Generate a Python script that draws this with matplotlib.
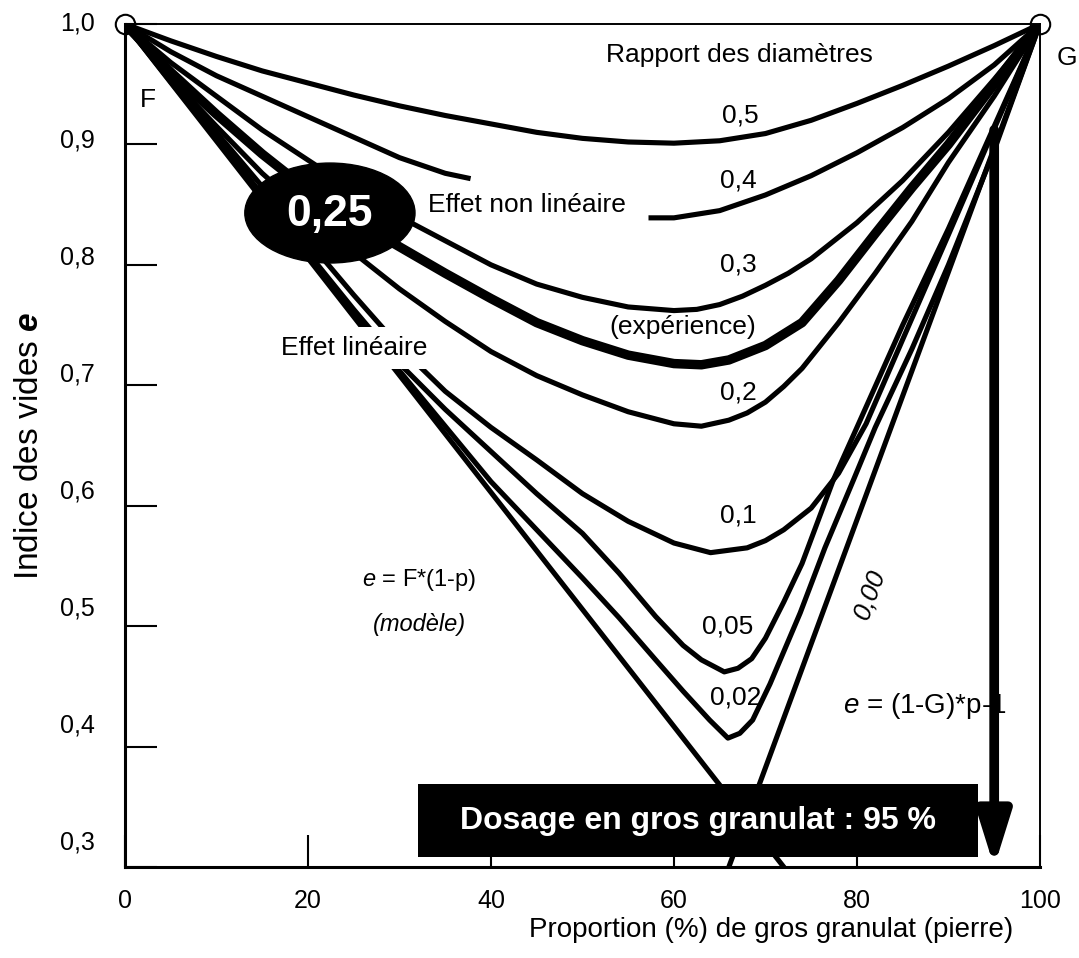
import numpy as np
import matplotlib
matplotlib.use("Agg")
import matplotlib.pyplot as plt
from matplotlib.patches import Ellipse, Rectangle
from matplotlib.transforms import blended_transform_factory

plt.rcParams["font.family"] = ["Liberation Sans", "DejaVu Sans"]
plt.rcParams["mathtext.fontset"] = "custom"
plt.rcParams["mathtext.it"] = "Liberation Sans:italic"
plt.rcParams["mathtext.bf"] = "Liberation Sans:bold"
plt.rcParams["mathtext.bfit"] = "Liberation Sans:italic:bold"

# void index e vs. coarse fraction p (%), one curve per diameter ratio
P_05 = [0, 5, 10, 15, 20, 25, 30, 35, 40, 45, 50, 55, 60, 65, 70, 75, 80, 85, 90, 95, 100]
E_05 = [1.0, 0.986, 0.973, 0.961, 0.951, 0.941, 0.932, 0.924, 0.917, 0.910, 0.905,
        0.902, 0.901, 0.903, 0.909, 0.920, 0.934, 0.949, 0.965, 0.982, 1.0]

# the 0,4 curve is interrupted under "Effet non linéaire"
P_04 = [0, 5, 10, 15, 20, 25, 30, 35, 37.5, np.nan, 57.5, 60, 65, 70, 75, 80, 85, 90, 95, 100]
E_04 = [1.0, 0.977, 0.957, 0.940, 0.923, 0.906, 0.889, 0.876, 0.872, np.nan,
        0.839, 0.839, 0.845, 0.858, 0.874, 0.893, 0.914, 0.938, 0.966, 1.0]

P_03 = [0, 5, 10, 15, 20, 25, 30, 35, 40, 45, 50, 55, 60, 62.5, 65, 67.5, 70, 72.5,
        75, 80, 85, 90, 95, 100]
E_03 = [1.0, 0.968, 0.94, 0.912, 0.887, 0.862, 0.84, 0.82, 0.80, 0.784, 0.773,
        0.765, 0.762, 0.763, 0.767, 0.774, 0.783, 0.793, 0.805, 0.835, 0.87, 0.91,
        0.954, 1.0]

P_EXP = [0, 5, 10, 15, 20, 25, 30, 35, 40, 45, 50, 55, 60, 63, 66, 70, 74, 78, 82, 86, 90, 95, 100]
E_EXP = [1.0, 0.96, 0.925, 0.892, 0.862, 0.837, 0.815, 0.793, 0.772, 0.752, 0.737,
         0.725, 0.718, 0.717, 0.721, 0.733, 0.752, 0.787, 0.826, 0.864, 0.90, 0.95, 1.0]

P_02 = [0, 5, 10, 15, 20, 25, 30, 35, 40, 45, 50, 55, 60, 63, 66, 68, 70, 72, 74,
        78, 82, 86, 90, 95, 100]
E_02 = [1.0, 0.955, 0.915, 0.876, 0.842, 0.81, 0.78, 0.753, 0.728, 0.708, 0.692,
        0.678, 0.668, 0.666, 0.671, 0.677, 0.686, 0.699, 0.714, 0.752, 0.793, 0.836,
        0.885, 0.94, 1.0]

P_01 = [0, 5, 10, 15, 20, 25, 30, 35, 40, 45, 50, 55, 60, 64, 68, 70, 72, 75, 78,
        81, 85, 90, 95, 100]
E_01 = [1.0, 0.955, 0.91, 0.865, 0.82, 0.775, 0.732, 0.695, 0.665, 0.638, 0.61,
        0.587, 0.569, 0.561, 0.565, 0.571, 0.58, 0.598, 0.627, 0.668, 0.738, 0.825,
        0.913, 1.0]

P_005 = [0, 5, 10, 15, 20, 25, 30, 35, 40, 45, 50, 54, 58, 61, 63, 65.5, 67, 68.5,
         70, 72, 74, 77.4, 80, 85, 90, 95, 100]
E_005 = [1.0, 0.953, 0.907, 0.858, 0.81, 0.763, 0.718, 0.68, 0.645, 0.61, 0.577,
         0.544, 0.508, 0.484, 0.472, 0.462, 0.465, 0.473, 0.49, 0.52, 0.552, 0.621,
         0.665, 0.75, 0.83, 0.915, 1.0]

P_002 = [0, 5, 10, 15, 20, 25, 30, 35, 40, 45, 50, 54, 58, 61, 63.9, 65.9, 67.2,
         68.6, 70.5, 73.8, 76.5, 79.6, 82, 86, 90, 95, 100]
E_002 = [1.0, 0.952, 0.905, 0.857, 0.808, 0.76, 0.712, 0.666, 0.62, 0.58, 0.54,
         0.507, 0.472, 0.446, 0.422, 0.407, 0.411, 0.422, 0.452, 0.511, 0.565, 0.621,
         0.665, 0.73, 0.80, 0.895, 1.0]

# linear model branches (ratio 0,00)
P_LIN_F = [0, 72]
E_LIN_F = [1.0, 0.30]
P_LIN_G = [100, 66]
E_LIN_G = [1.0, 0.30]

CURVES = [
    (P_05, E_05), (P_04, E_04), (P_03, E_03), (P_02, E_02), (P_01, E_01),
    (P_005, E_005), (P_002, E_002), (P_LIN_F, E_LIN_F), (P_LIN_G, E_LIN_G),
]

X_TICKS = [0, 20, 40, 60, 80, 100]
Y_TICKS = [0.3, 0.4, 0.5, 0.6, 0.7, 0.8, 0.9, 1.0]
Y_LABELS = ["0,3", "0,4", "0,5", "0,6", "0,7", "0,8", "0,9", "1,0"]

DOSAGE = 95
ARROW_TOP = 0.912

fig = plt.figure(figsize=(10.79, 9.58), dpi=100)
ax = fig.add_axes([0.1158, 0.095, 0.848, 0.88])
ax.set_xlim(0, 100)
ax.set_ylim(0.3, 1.0)

ax.plot([0, 100], [1.0, 1.0], "o", ms=14, mfc="white", mec="black", mew=1.5,
        clip_on=False, zorder=1)
for p, e in CURVES:
    ax.plot(p, e, color="black", lw=3.7, solid_joinstyle="round", zorder=2)
ax.plot(P_EXP, E_EXP, color="black", lw=6.8, solid_joinstyle="round", zorder=2)

# dosage arrow
ax.annotate("", xy=(DOSAGE, 0.3), xytext=(DOSAGE, ARROW_TOP),
            arrowprops=dict(arrowstyle="-|>,head_length=3.2,head_width=1.0",
                            color="black", lw=7, shrinkA=0, shrinkB=0),
            zorder=3)

ax.add_patch(Rectangle((32.0, 0.308), 61.2, 0.061, fc="black", ec="none", zorder=5))
ax.text(62.6, 0.3385, "Dosage en gros granulat : 95 %", color="white",
        fontsize=23, fontweight="bold", ha="center", va="center", zorder=6)

ax.add_patch(Ellipse((22.4, 0.843), 18.6, 0.083, fc="black", ec="black", zorder=5))
ax.text(22.4, 0.842, "0,25", color="white", fontsize=32, fontweight="bold",
        ha="center", va="center", zorder=6)

fs = 19
ax.text(67.2, 0.974, "Rapport des diamètres", fontsize=fs, ha="center", va="center")
ax.text(67.2, 0.924, "0,5", fontsize=fs, ha="center", va="center")
ax.text(67.0, 0.870, "0,4", fontsize=fs, ha="center", va="center")
ax.text(67.0, 0.800, "0,3", fontsize=fs, ha="center", va="center")
ax.text(61.0, 0.748, "(expérience)", fontsize=fs, ha="center", va="center")
ax.text(67.0, 0.694, "0,2", fontsize=fs, ha="center", va="center")
ax.text(67.0, 0.592, "0,1", fontsize=fs, ha="center", va="center")
ax.text(65.9, 0.500, "0,05", fontsize=fs, ha="center", va="center")
ax.text(66.7, 0.441, "0,02", fontsize=fs, ha="center", va="center")
ax.text(81.4, 0.526, "0,00", fontsize=fs, ha="center", va="center",
        rotation=70, style="italic")
ax.text(87.4, 0.434, "$e$ = (1-G)*p-1", fontsize=20, ha="center", va="center")
ax.text(32.2, 0.538, "$e$ = F*(1-p)", fontsize=17, ha="center", va="center")
ax.text(32.2, 0.501, "(modèle)", fontsize=17, ha="center", va="center",
        style="italic")
# the line bundle is cut where this label sits
ax.text(25.1, 0.731, "Effet linéaire", fontsize=fs, ha="center", va="center",
        zorder=4, bbox=dict(boxstyle="square,pad=0.35", fc="white", ec="none"))
ax.text(43.9, 0.850, "Effet non linéaire", fontsize=fs, ha="center", va="center")
ax.text(2.5, 0.937, "F", fontsize=fs, ha="center", va="center")
ax.text(103.0, 0.972, "G", fontsize=fs, ha="center", va="center", clip_on=False)

ax.set_xticks(X_TICKS)
ax.set_xticklabels([str(v) for v in X_TICKS])
ax.set_yticks(Y_TICKS)
ax.set_yticklabels([])
ax.tick_params(axis="both", direction="in", length=23, width=1.5,
               labelsize=18, pad=16)

# y labels sit on a slightly compressed scale, drifting above their ticks
trans = blended_transform_factory(ax.transAxes, ax.transData)
for v, lab in zip(Y_TICKS, Y_LABELS):
    ax.text(-0.033, 1 - (1 - v) * 0.9714, lab, fontsize=18, ha="right",
            va="center", transform=trans)

for side in ["left", "bottom"]:
    ax.spines[side].set_linewidth(2.2)
for side in ["top", "right"]:
    ax.spines[side].set_linewidth(1.4)

fig.text(0.027, 0.535, "Indice des vides $\\mathbfit{e}$", fontsize=24,
         rotation=90, ha="center", va="center")
fig.text(0.7146, 0.029, "Proportion (%) de gros granulat (pierre)", fontsize=20,
         ha="center", va="center")

fig.savefig("out.png", dpi=100)
